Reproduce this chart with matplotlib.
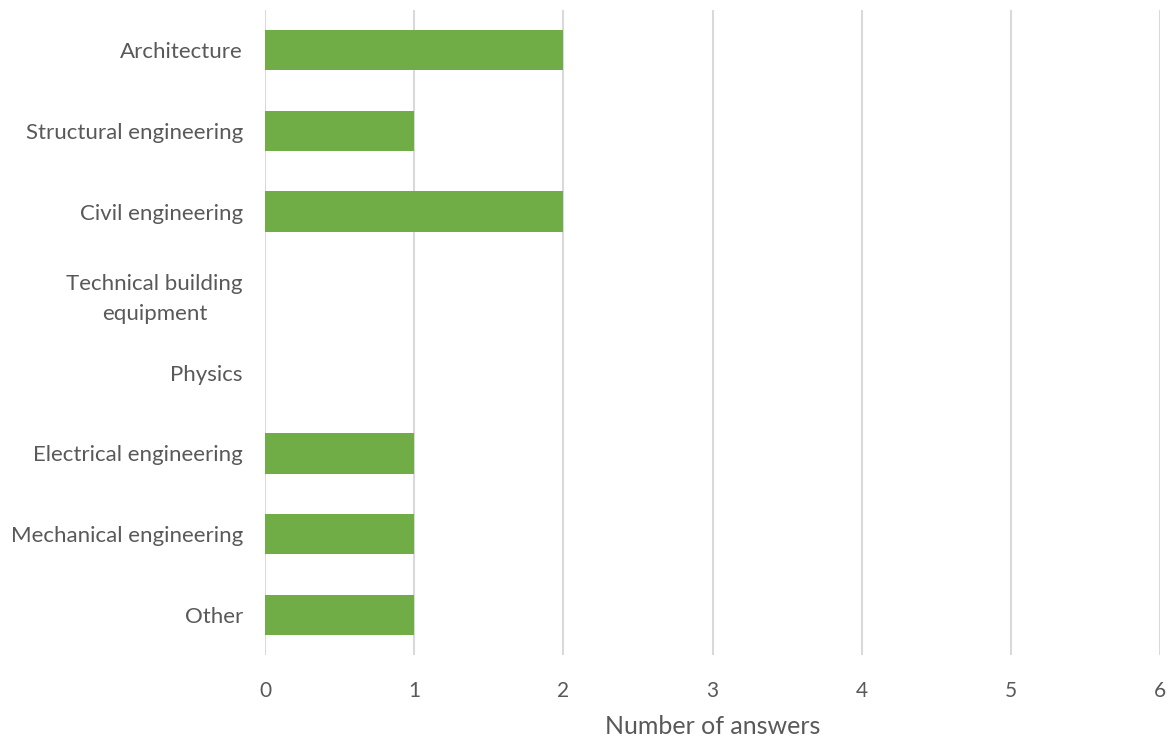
import numpy as np
import matplotlib.pyplot as plt

categories = ["Architecture", "Structural engineering", "Civil engineering",
              "Technical building\nequipment", "Physics", "Electrical engineering",
              "Mechanical engineering", "Other"]
answers = [2, 1, 2, 0, 0, 1, 1, 1]
xticks = [0, 1, 2, 3, 4, 5, 6]

plt.rcParams['font.family'] = ['Lato', 'DejaVu Sans']
txt = '#595959'

fig = plt.figure(figsize=(11.72, 7.40), dpi=100)
ax = fig.add_axes([0.2261, 0.1149, 0.7637, 0.8716])

y = np.arange(len(categories))
ax.barh(y, answers, height=0.5, color='#70AD47', zorder=3)

ax.set_xlim(0, 6)
ax.set_ylim(len(categories) - 0.5, -0.5)
ax.set_yticks(y)
ax.set_yticklabels(categories, fontsize=16, color=txt, multialignment='center',
                   linespacing=1.6)
ax.set_xticks(xticks)
ax.set_xticklabels([str(v) for v in xticks], fontsize=15, color=txt)
ax.tick_params(axis='both', length=0)
ax.tick_params(axis='x', pad=19)
ax.tick_params(axis='y', pad=16)
ax.grid(axis='x', color='#D9D9D9', linewidth=1.5, zorder=0)
for s in ax.spines.values():
    s.set_visible(False)
ax.set_xlabel('Number of answers', fontsize=18, color=txt, labelpad=10)

plt.savefig('out.png', dpi=100)
plt.close(fig)
